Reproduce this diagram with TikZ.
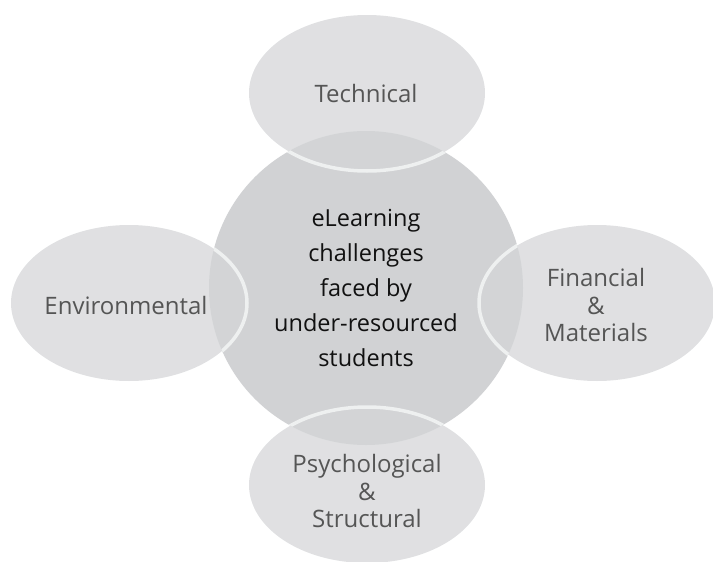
\documentclass[tikz,border=0pt]{standalone}
\usepackage{fontspec}
\setmainfont{Open Sans}
\usetikzlibrary{shapes.geometric}
\definecolor{coregray}{HTML}{D1D2D4}
\definecolor{petalgray}{HTML}{D4D5D7}
\definecolor{rimwhite}{HTML}{EEF0F0}
\definecolor{petaltext}{HTML}{555555}
\definecolor{coretext}{HTML}{111111}
\tikzset{
  core/.style={circle, fill=coregray, minimum size=314pt, inner sep=0pt,
    text=coretext, align=center, font=\fontsize{23.5}{35.2}\selectfont},
  petal/.style={ellipse, fill=petalgray, fill opacity=0.73,
    minimum width=236pt, minimum height=156pt, inner sep=0pt},
  rim/.style={draw=rimwhite, line width=3.5pt},
  petaltxt/.style={text=petaltext, align=center, inner sep=0pt,
    font=\fontsize{24}{27.5}\selectfont},
}
\begin{document}
\begin{tikzpicture}[x=1pt,y=-1pt]
\useasboundingbox (0,0) rectangle (713,562);
\node[core] (c) at (366,288) {};
\node[petal] (t) at (367,93) {};
\node[petal] (l) at (129,303) {};
\node[petal] (r) at (597,303) {};
\node[petal] (b) at (367,485) {};
\begin{scope}
  \clip (366,288) circle[radius=157];
  \draw[rim] (t.center) ellipse[x radius=118, y radius=78];
  \draw[rim] (l.center) ellipse[x radius=118, y radius=78];
  \draw[rim] (r.center) ellipse[x radius=118, y radius=78];
  \draw[rim] (b.center) ellipse[x radius=118, y radius=78];
\end{scope}
\node[align=center, text=coretext, inner sep=0pt, font=\fontsize{23.5}{35.2}\selectfont] (ct) at (c.center) {eLearning\\challenges\\faced by\\under-resourced\\students};
\node[petaltxt] (tt) at (366,93) {Technical};
\node[petaltxt] (lt) at (126,305) {Environmental};
\node[petaltxt] (rt) at (596,305) {Financial\\\&\\Materials};
\node[petaltxt] (bt) at (367,491) {Psychological\\\&\\Structural};
\end{tikzpicture}
\end{document}
